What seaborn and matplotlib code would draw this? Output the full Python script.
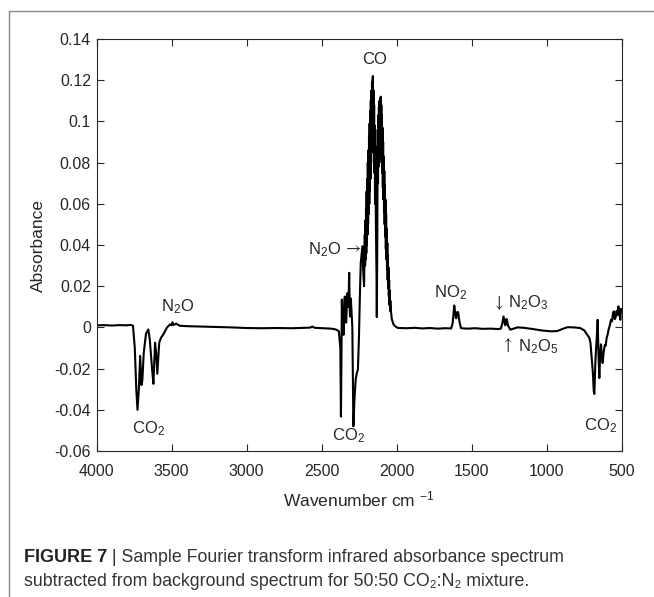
import matplotlib
matplotlib.use("Agg")
import matplotlib.pyplot as plt
import seaborn as sns
import pandas as pd
from matplotlib.lines import Line2D

# ---------------- data ----------------
# 4000-3445 cm-1: CO2 overtone region and N2O
wn_a = [4000, 3950, 3900, 3850, 3800, 3770, 3757, 3745, 3735, 3727, 3718, 3709, 3701, 3695,
        3685, 3670, 3655, 3645, 3630, 3621, 3610, 3603, 3595, 3582, 3570, 3555, 3530, 3510,
        3500, 3494, 3485, 3470, 3445]
ab_a = [0.0010, 0.0011, 0.0009, 0.0011, 0.0010, 0.0012, 0.0008, -0.010, -0.030, -0.040, -0.030,
        -0.0138, -0.028, -0.026, -0.012, -0.003, -0.001, -0.006, -0.020, -0.0274, -0.0074, -0.012,
        -0.0225, -0.0073, -0.005, -0.0034, 0.000, 0.0015, 0.0010, 0.0025, 0.0012, 0.0018, 0.0008]
# 3400-2386 cm-1: baseline
wn_b = [3400, 3300, 3200, 3100, 3000, 2900, 2800, 2700, 2650, 2577, 2562, 2547, 2490, 2436, 2406, 2386]
ab_b = [0.0006, 0.0004, 0.0002, 0.0000, -0.0003, -0.0004, -0.0003, -0.0004, -0.0003, -0.0001,
        0.0004, -0.0002, -0.0004, -0.0006, -0.0010, -0.0018]
# 2376-2218 cm-1: CO2 stretch and N2O
wn_c = [2376, 2372, 2368, 2366, 2362, 2359, 2355, 2350, 2346, 2341, 2337, 2332, 2328, 2322, 2317,
        2313, 2311, 2306, 2302, 2296, 2289, 2282, 2274, 2266, 2259, 2252, 2246, 2240, 2234, 2229,
        2224, 2218]
ab_c = [-0.010, -0.0433, -0.010, 0.0135, 0.002, 0.010, -0.0036, 0.012, 0.015, 0.004, 0.0023, 0.012,
        0.0167, 0.010, 0.0265, 0.008, 0.0053, 0.014, 0.0086, 0.000, -0.048, -0.035, -0.0255, -0.022,
        -0.0206, -0.005, 0.015, 0.0313, 0.036, 0.0394, 0.028, 0.020]
# 2213-2159 cm-1: CO R branch
wn_d = [2213, 2211, 2209, 2207, 2205, 2203, 2201, 2199, 2197, 2195, 2193, 2191, 2189, 2187, 2185,
        2183, 2181, 2179, 2177, 2175, 2173, 2171, 2169, 2167, 2165, 2163, 2161, 2159]
ab_d = [0.045, 0.030, 0.052, 0.033, 0.058, 0.036, 0.066, 0.040, 0.072, 0.045, 0.080, 0.050, 0.086,
        0.055, 0.093, 0.060, 0.099, 0.066, 0.105, 0.072, 0.110, 0.080, 0.115, 0.085, 0.119, 0.092,
        0.121, 0.122]
# 2157-2127 cm-1: CO band centre gap
wn_e = [2157, 2155, 2153, 2151, 2149, 2147, 2145, 2143, 2139, 2135, 2133, 2130, 2127]
ab_e = [0.095, 0.115, 0.085, 0.108, 0.075, 0.098, 0.060, 0.088, 0.050, 0.025, 0.005, 0.040, 0.096]
# 2125-2033 cm-1: CO P branch
wn_f = [2125, 2123, 2121, 2119, 2117, 2115, 2113, 2111, 2109, 2107, 2105, 2103, 2101, 2099, 2097,
        2095, 2093, 2091, 2089, 2087, 2085, 2083, 2081, 2079, 2077, 2075, 2073, 2071, 2069, 2067,
        2065, 2063, 2061, 2059, 2057, 2055, 2053, 2051, 2049, 2047, 2045, 2043, 2039, 2033]
ab_f = [0.070, 0.103, 0.078, 0.107, 0.082, 0.110, 0.085, 0.111, 0.086, 0.112, 0.085, 0.108, 0.080,
        0.103, 0.075, 0.097, 0.068, 0.090, 0.062, 0.083, 0.056, 0.076, 0.050, 0.069, 0.044, 0.062,
        0.038, 0.055, 0.033, 0.048, 0.028, 0.041, 0.023, 0.035, 0.019, 0.029, 0.015, 0.023, 0.011,
        0.018, 0.008, 0.013, 0.008, 0.004]
# 2022-1196 cm-1: NO2, N2O3 / N2O5
wn_g = [2022, 2007, 1991, 1981, 1931, 1880, 1830, 1779, 1729, 1678, 1638, 1628, 1617, 1610, 1604,
        1597, 1591, 1583, 1573, 1557, 1527, 1477, 1426, 1376, 1325, 1307, 1297, 1289, 1281, 1277,
        1271, 1267, 1260, 1244, 1219, 1196]
ab_g = [0.0015, 0.0003, -0.0003, -0.0003, -0.0004, -0.0002, -0.0005, -0.0003, -0.0006, -0.0004,
        -0.0005, 0.002, 0.0106, 0.006, 0.0044, 0.0075, 0.0073, 0.003, -0.0003, -0.0005, -0.0006,
        -0.0004, -0.0007, -0.0006, -0.0008, -0.0006, 0.002, 0.0053, 0.002, 0.001, 0.004, 0.0040,
        0.001, -0.0011, -0.0005, 0.0000]
# 1154-500 cm-1: CO2 bending region
wn_h = [1154, 1093, 1033, 972, 932, 891, 863, 821, 779, 750, 740, 718, 710, 703, 694, 688, 684,
        678, 674, 668, 662, 657, 651, 645, 640, 634, 629, 622, 615, 609, 602, 596, 589, 581, 573,
        566, 561, 555, 548, 542, 536, 530, 524, 518, 511, 506, 500]
ab_h = [-0.0002, -0.0008, -0.0015, -0.0019, -0.0018, -0.0006, 0.0001, 0.0000, -0.0003, -0.0015,
        -0.0027, -0.005, -0.0075, -0.0141, -0.022, -0.031, -0.0323, -0.018, -0.012, -0.005, 0.0037,
        -0.012, -0.0246, -0.012, -0.0082, -0.014, -0.0173, -0.012, -0.0086, -0.0090, -0.0050,
        -0.0036, -0.0010, 0.0010, 0.0037, 0.0030, 0.0065, 0.0078, 0.0040, 0.0050, 0.0080, 0.0060,
        0.0102, 0.0065, 0.0037, 0.0090, 0.0085]

x_ticks = [4000, 3500, 3000, 2500, 2000, 1500, 1000, 500]
x_tick_labels = ["4000", "3500", "3000", "2500", "2000", "1500", "1000", "500"]
y_ticks = [-0.06, -0.04, -0.02, 0, 0.02, 0.04, 0.06, 0.08, 0.10, 0.12, 0.14]
y_tick_labels = ["-0.06", "-0.04", "-0.02", "0", "0.02", "0.04", "0.06", "0.08", "0.1", "0.12", "0.14"]

# annotations: (text, wavenumber, absorbance, horizontal alignment)
annotations = [
    ("CO", 2147, 0.1300, "center"),
    ("N$_2$O", 3460, 0.0102, "center"),
    ("CO$_2$", 3653, -0.0490, "center"),
    ("N$_2$O", 2370, 0.0375, "right"),
    ("CO$_2$", 2322, -0.0525, "center"),
    ("NO$_2$", 1640, 0.0167, "center"),
    ("N$_2$O$_3$", 1262, 0.0119, "left"),
    ("N$_2$O$_5$", 1195, -0.0092, "left"),
    ("CO$_2$", 640, -0.0475, "center"),
]
# arrow glyphs that belong to the annotations: (glyph, wavenumber, absorbance)
arrow_glyphs = [
    ("\u2192", 2288, 0.0378),
    ("\u2193", 1320, 0.0125),
    ("\u2191", 1262, -0.0082),
]

caption_bold = "FIGURE 7"
caption_rest_1 = " | Sample Fourier transform infrared absorbance spectrum"
caption_line_2 = "subtracted from background spectrum for 50:50 CO\u2082:N\u2082 mixture."

# ---------------- style ----------------
sns.set_theme(style="ticks")
plt.rcParams["font.family"] = ["Liberation Sans", "DejaVu Sans"]
plt.rcParams["mathtext.fontset"] = "custom"
plt.rcParams["mathtext.rm"] = "Liberation Sans"
plt.rcParams["mathtext.it"] = "Liberation Sans"
plt.rcParams["mathtext.bf"] = "Liberation Sans:bold"
plt.rcParams["mathtext.fallback"] = "stixsans"

TXT = "#262626"

fig = plt.figure(figsize=(6.54, 5.97), dpi=100)
ax = fig.add_axes([96.5 / 654, 1 - 451 / 597, (622 - 96.5) / 654, (451 - 39) / 597])

wavenumber = wn_a + wn_b + wn_c + wn_d + wn_e + wn_f + wn_g + wn_h
absorbance = ab_a + ab_b + ab_c + ab_d + ab_e + ab_f + ab_g + ab_h
df = pd.DataFrame({"Wavenumber": wavenumber, "Absorbance": absorbance})
sns.lineplot(data=df, x="Wavenumber", y="Absorbance", sort=False, estimator=None,
             color="black", linewidth=1.5, ax=ax)

ax.set_xlim(4000, 500)
ax.set_ylim(-0.06, 0.14)
ax.set_xticks(x_ticks)
ax.set_xticklabels(x_tick_labels)
ax.set_yticks(y_ticks)
ax.set_yticklabels(y_tick_labels)
ax.tick_params(direction="in", length=5, width=0.8, colors=TXT, labelsize=11.5,
               top=True, right=True, labeltop=False, labelright=False)
ax.tick_params(axis="x", pad=9)
ax.tick_params(axis="y", pad=4)
for s in ax.spines.values():
    s.set_visible(True)
    s.set_color(TXT)
    s.set_linewidth(0.8)

ax.set_xlabel("Wavenumber cm $^{-1}$", fontsize=12.5, color=TXT, labelpad=8)
ax.set_ylabel("Absorbance", fontsize=12.5, color=TXT, labelpad=6)

for text, xw, ya, ha in annotations:
    ax.text(xw, ya, text, ha=ha, va="center", fontsize=12, color=TXT)
for glyph, xw, ya in arrow_glyphs:
    ax.text(xw, ya, glyph, ha="center", va="center", fontsize=12, color=TXT,
            family=["STIXGeneral", "DejaVu Sans"])

# frame lines around figure (top and left)
fig.add_artist(Line2D([9 / 654, 1.0], [1 - 11 / 597, 1 - 11 / 597], transform=fig.transFigure,
                      color="#8a8a8a", linewidth=1.0))
fig.add_artist(Line2D([9 / 654, 9 / 654], [0.0, 1 - 11 / 597], transform=fig.transFigure,
                      color="#8a8a8a", linewidth=1.0))

# caption
t1 = fig.text(24 / 654, 1 - 557 / 597, caption_bold, fontsize=13, fontweight="bold",
              color="#222222", va="center", ha="left")
fig.canvas.draw()
bb = t1.get_window_extent(renderer=fig.canvas.get_renderer())
x_after = bb.x1 / fig.bbox.width
fig.text(x_after, 1 - 557 / 597, caption_rest_1, fontsize=12.8,
         color="#333333", va="center", ha="left")
fig.text(24 / 654, 1 - 582 / 597, caption_line_2, fontsize=12.8,
         color="#333333", va="center", ha="left")

fig.savefig("out.png", dpi=100)
